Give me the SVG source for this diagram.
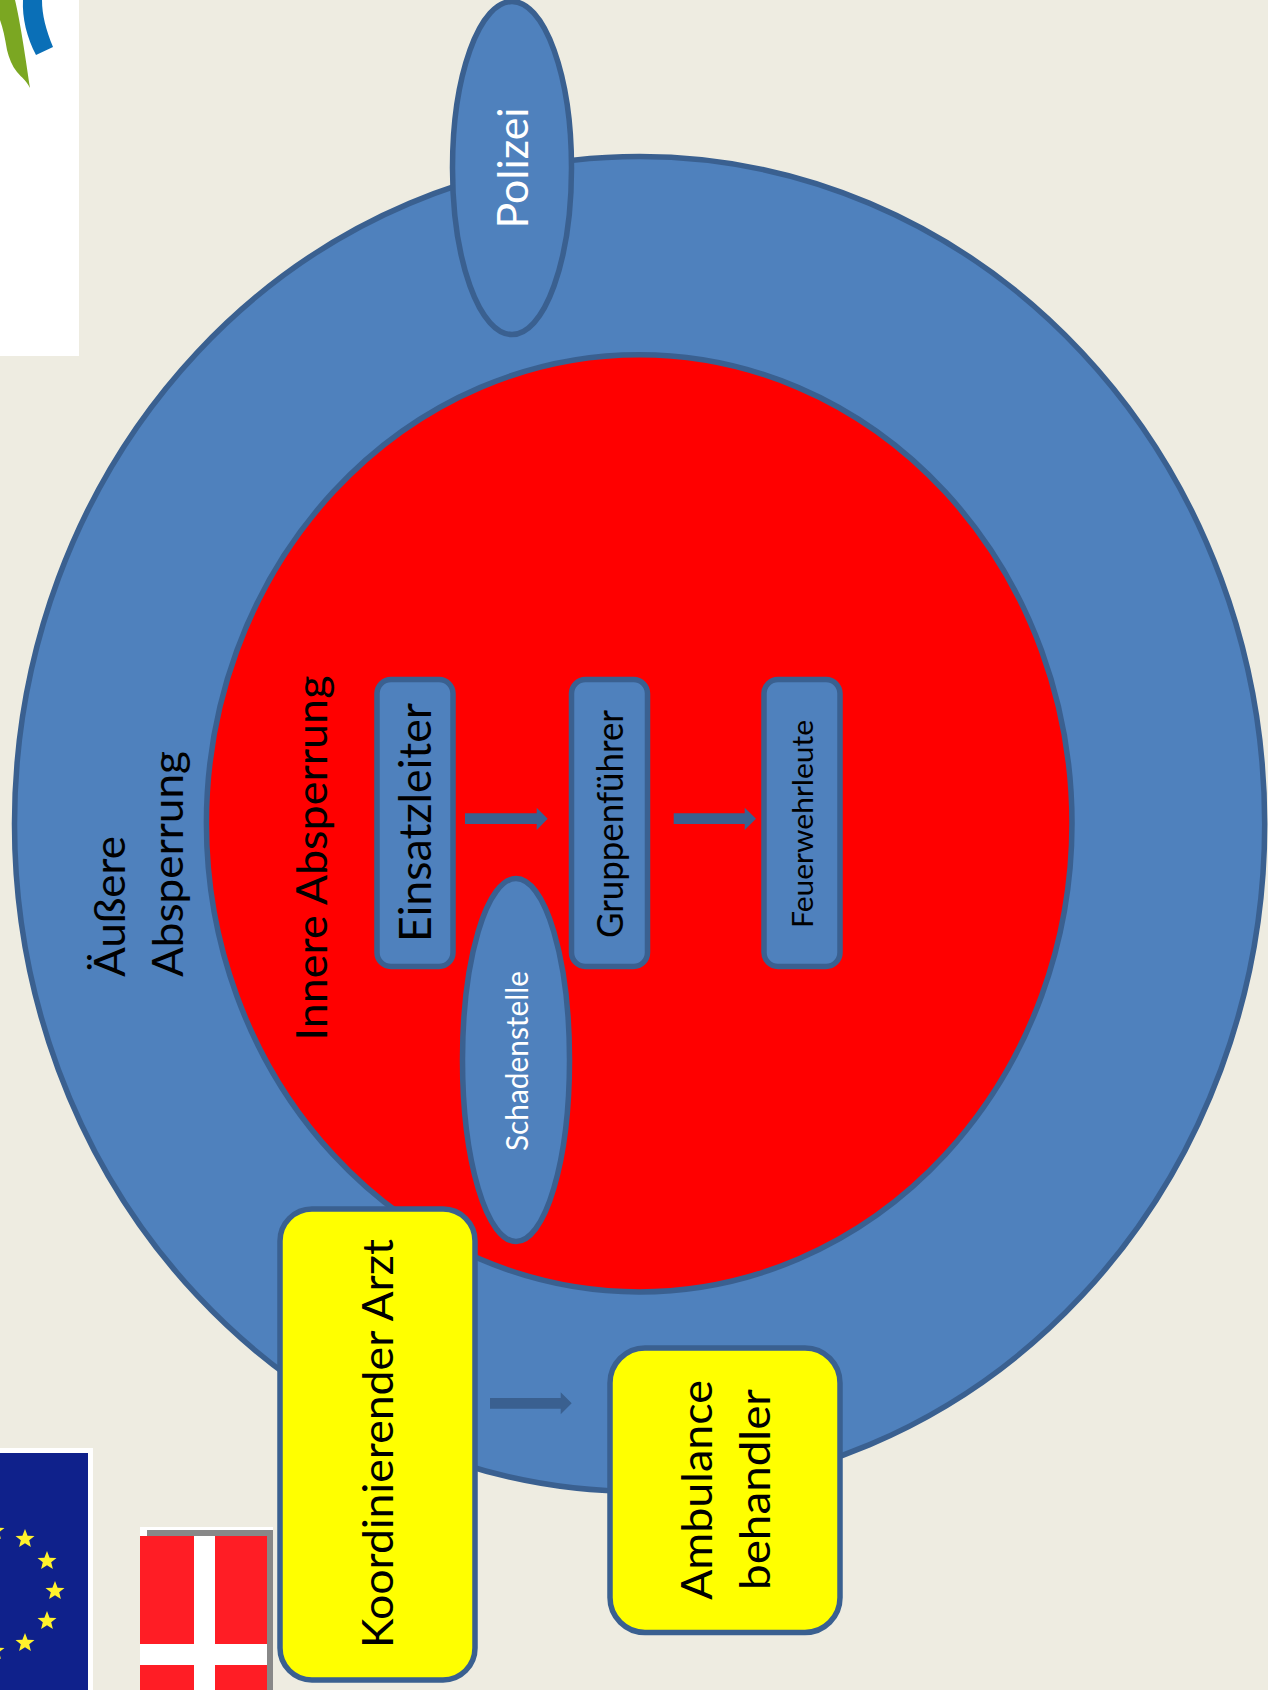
<svg xmlns="http://www.w3.org/2000/svg" width="1268" height="1690" viewBox="0 0 1268 1690">
<style>
.s{stroke:#3A6090;stroke-width:5.5}
.b{fill:#4F81BD}
.y{fill:#FFFF00}
.t{font-family:Lato,"Liberation Sans",sans-serif;fill:#000}
.a{fill:#3A6090}
.star{fill:#FFF22C}
</style>
<defs><polygon id="st" points="0,-10 2.6,-3.2 9.5,-3.1 4.2,1.2 5.9,8.1 0,4.2 -5.9,8.1 -4.2,1.2 -9.5,-3.1 -2.6,-3.2"/></defs>
<rect width="1268" height="1690" fill="#EEECE1"/>
<g id="logo">
<rect x="0" y="0" width="79" height="356" fill="#fff"/>
<path d="M0,0H15C20,20 26,60 30,88C26,80 22,78 17,72C12,66 9,58 7,50C5,38 3,28 0,20Z" fill="#7BA722"/>
<path d="M23,0H42C42,15 46,30 53,47L36,55C27,38 22,18 23,0Z" fill="#0A6FB7"/>
</g>
<g id="flag-eu">
<rect x="0" y="1448" width="93" height="242" fill="#fff"/>
<rect x="0" y="1453" width="88" height="237" fill="#0F218B"/>
<use href="#st" class="star" x="-5" y="1531"/>
<use href="#st" class="star" x="25" y="1539"/>
<use href="#st" class="star" x="47" y="1561"/>
<use href="#st" class="star" x="55" y="1591"/>
<use href="#st" class="star" x="47" y="1621"/>
<use href="#st" class="star" x="25" y="1643"/>
<use href="#st" class="star" x="-5" y="1651"/>
</g>
<g id="flag-dk">
<rect x="140" y="1527" width="133" height="163" fill="#fff"/>
<path d="M147,1530H273V1690H267V1536H147Z" fill="#888"/>
<rect x="140" y="1536" width="127" height="154" fill="#FF1D25"/>
<rect x="194" y="1536" width="21" height="154" fill="#fff"/>
<rect x="140" y="1644" width="127" height="21" fill="#fff"/>
</g>
<g id="outer"><ellipse class="b s" cx="639.6" cy="824" rx="625.1" ry="667.5"/>
<text class="t" transform="translate(125,977) rotate(-90)" font-size="43" textLength="141" lengthAdjust="spacingAndGlyphs">Äußere</text>
<text class="t" transform="translate(182.7,977) rotate(-90)" font-size="43" textLength="226" lengthAdjust="spacingAndGlyphs">Absperrung</text>
</g>
<g id="inner"><ellipse class="s" fill="#FF0000" cx="639.2" cy="823.3" rx="432.8" ry="468.6"/>
<text class="t" transform="translate(326.7,1040.5) rotate(-90)" font-size="42" textLength="365" lengthAdjust="spacingAndGlyphs">Innere Absperrung</text>
</g>
<g id="polizei"><ellipse class="b s" cx="512" cy="168" rx="59.5" ry="166.5"/>
<text class="t" style="fill:#fff" transform="translate(527.7,228.5) rotate(-90)" font-size="42" textLength="121" lengthAdjust="spacingAndGlyphs">Polizei</text>
</g>
<g id="einsatzleiter"><rect class="b s" x="377" y="679.5" width="76" height="287" rx="14"/>
<text class="t" transform="translate(431,942) rotate(-90)" font-size="45" textLength="239" lengthAdjust="spacingAndGlyphs">Einsatzleiter</text>
</g>
<g id="gruppenfuehrer"><rect class="b s" x="571.5" y="679.5" width="76" height="287" rx="14"/>
<text class="t" transform="translate(622.7,938) rotate(-90)" font-size="36" textLength="228" lengthAdjust="spacingAndGlyphs">Gruppenführer</text>
</g>
<g id="feuerwehrleute"><rect class="b s" x="764" y="679.5" width="76" height="287" rx="14"/>
<text class="t" transform="translate(812.7,928) rotate(-90)" font-size="29" textLength="208" lengthAdjust="spacingAndGlyphs">Feuerwehrleute</text>
</g>
<g id="schadenstelle"><ellipse class="b s" cx="516" cy="1060" rx="53.5" ry="181.5"/>
<text class="t" style="fill:#fff" transform="translate(527.7,1151) rotate(-90)" font-size="31" textLength="180" lengthAdjust="spacingAndGlyphs">Schadenstelle</text>
</g>
<g id="koordinierender-arzt"><rect class="y s" x="280" y="1209" width="195" height="471" rx="32"/>
<text class="t" transform="translate(393,1648) rotate(-90)" font-size="43" textLength="409" lengthAdjust="spacingAndGlyphs">Koordinierender Arzt</text>
</g>
<g id="ambulance"><rect class="y s" x="610" y="1348" width="230" height="284.5" rx="35"/>
<text class="t" transform="translate(711.7,1600) rotate(-90)" font-size="43" textLength="220" lengthAdjust="spacingAndGlyphs">Ambulance</text>
<text class="t" transform="translate(770,1590) rotate(-90)" font-size="43" textLength="201" lengthAdjust="spacingAndGlyphs">behandler</text>
</g>
<g id="connectors">
<polygon class="a" points="465,813.3 536.7,813.3 536.7,807.7 547.7,818.7 536.7,830 536.7,824 465,824"/>
<polygon class="a" points="673.7,813.3 744.7,813.3 744.7,807.7 756,818.7 744.7,830 744.7,824 673.7,824"/>
<polygon class="a" points="490,1398 560.7,1398 560.7,1392.3 571.7,1403.3 560.7,1414.3 560.7,1408.7 490,1408.7"/>
</g>
</svg>
